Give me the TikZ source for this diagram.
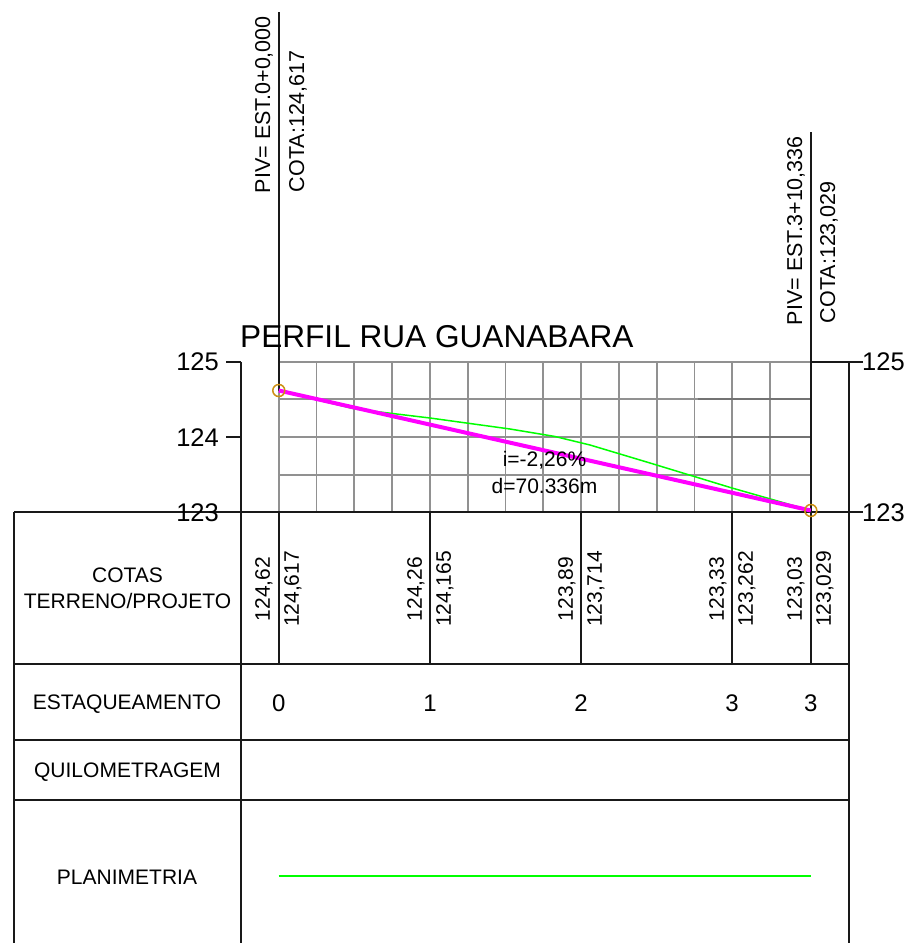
\documentclass[tikz,border=0pt]{standalone}
\usepackage{fontspec}
\setmainfont{Liberation Sans}
\definecolor{pfgreen}{RGB}{0,255,0}
\definecolor{pfmag}{RGB}{255,0,255}
\definecolor{pfor}{RGB}{205,145,20}
\definecolor{pfgrid}{RGB}{145,145,145}
\tikzset{
  px/.style={x=1pt,y=-1pt},
  gridline/.style={draw=pfgrid,line width=1.7pt},
  griddark/.style={draw=black!55,line width=1.7pt},
  frame/.style={draw=black!90,line width=1.7pt},
  lab/.style={inner sep=0pt,font=\fontsize{21}{24}\selectfont},
  cell/.style={inner sep=0pt,align=center,font=\fontsize{21}{26}\selectfont},
  val/.style={inner sep=0pt,rotate=90,font=\fontsize{21}{24}\selectfont},
  axisnum/.style={inner sep=0pt,font=\fontsize{25.5}{28}\selectfont},
  est/.style={inner sep=0pt,font=\fontsize{24}{26}\selectfont},
  piv/.style={inner sep=0pt,rotate=90,anchor=east,font=\fontsize{21.5}{24}\selectfont},
  pivmark/.style={circle,draw=pfor,line width=1.5pt,minimum size=12pt,inner sep=0pt}
}
\begin{document}
\begin{tikzpicture}[px]
\useasboundingbox (0,0) rectangle (910,943);
% grid
\foreach \x in {316.5,354.3,392.1,429.9,467.7,505.5,543.3,581.1,618.9,656.7,694.5,732.3,770.1}
  \draw[gridline] (\x,361.8) -- (\x,512);
\draw[gridline] (278.8,361.8) -- (278.8,512);
\draw[gridline] (278.8,361.8) -- (810.8,361.8);
\draw[gridline] (278.8,399.3) -- (810.8,399.3);
\draw[gridline] (278.8,437) -- (810.8,437);
\draw[gridline] (278.8,475) -- (810.8,475);
\draw[griddark] (698,399.3) -- (810.8,399.3);
\draw[griddark] (698,437) -- (810.8,437);
% frame
\draw[frame] (241,361.8) -- (241,943);
\draw[frame] (849,361.8) -- (849,943);
\draw[frame] (14,512) -- (849,512);
\draw[frame] (14,512) -- (14,664);
\draw[frame] (14,664) -- (849,664);
\draw[frame] (14,740) -- (849,740);
\draw[frame] (14,800) -- (849,800);
\draw[frame] (14,800) -- (14,943);
\draw[frame] (14,664) -- (14,800);
% axis ticks
\draw[frame] (226,361.8) -- (241,361.8);
\draw[frame] (226,437) -- (241,437);
\draw[frame] (226,512) -- (241,512);
\draw[frame] (810.8,361.8) -- (863,361.8);
\draw[frame] (849,512) -- (863,512);
% station lines
\coordinate (pa) at (278.8,390.5);
\coordinate (pb) at (810.8,510.5);
\draw[frame] (278.8,12) -- (278.8,390.5);
\draw[frame] (278.8,512) -- (278.8,664);
\draw[frame] (810.8,132) -- (810.8,664);
\draw[frame] (429.9,512) -- (429.9,664);
\draw[frame] (581.1,512) -- (581.1,664);
\draw[frame] (732.3,512) -- (732.3,664);
% profiles
\draw[pfgreen,line width=1.5pt] (pa) -- (355,409) -- (430,418) -- (510,429) -- (555,436.5) -- (590,445) -- (650,463) -- (732,488) -- (pb);
\draw[pfmag,line width=4pt] (pa) -- (pb);
\node[pivmark] (ma) at (pa) {};
\node[pivmark] (mb) at (pb) {};
\draw[pfgreen,line width=1.5pt] (278.5,876) -- (811,876);
% title and axis numbers
\node[inner sep=0pt,anchor=west,font=\fontsize{31.6}{34}\selectfont] (title) at (240,337) {PERFIL RUA GUANABARA};
\node[axisnum,anchor=east] (l125) at (219,362) {125};
\node[axisnum,anchor=east] (l124) at (219,438) {124};
\node[axisnum,anchor=east] (l123) at (219,513) {123};
\node[axisnum,anchor=west] (r125) at (862,362) {125};
\node[axisnum,anchor=west] (r123) at (862,513) {123};
% PIV labels
\node[piv] (p1) at (264,16) {PIV= EST.0+0,000};
\node[piv] (p2) at (298,50) {COTA:124,617};
\node[piv] (p3) at (796,136) {PIV= EST.3+10,336};
\node[piv] (p4) at (829,181) {COTA:123,029};
% slope
\node[lab] (si) at (544.5,460) {i=-2,26\%};
\node[lab] (sd) at (544.5,486) {d=70.336m};
% row titles
\node[cell] (c1) at (127.5,588.5) {COTAS\\TERRENO/PROJETO};
\node[cell] (c2) at (127,704) {ESTAQUEAMENTO};
\node[cell] (c3) at (127.5,772) {QUILOMETRAGEM};
\node[cell] (c4) at (127,877) {PLANIMETRIA};
% elevations
\node[val] at (264,589) {124,62};
\node[val] at (293,589) {124,617};
\node[val] at (416,589) {124,26};
\node[val] at (445,589) {124,165};
\node[val] at (567,589) {123,89};
\node[val] at (596,589) {123,714};
\node[val] at (718,589) {123,33};
\node[val] at (747,589) {123,262};
\node[val] at (796,589) {123,03};
\node[val] at (825,589) {123,029};
% stations
\node[est] at (278.8,703) {0};
\node[est] at (430,703) {1};
\node[est] at (581,703) {2};
\node[est] at (732,703) {3};
\node[est] at (810.8,703) {3};
\end{tikzpicture}
\end{document}
